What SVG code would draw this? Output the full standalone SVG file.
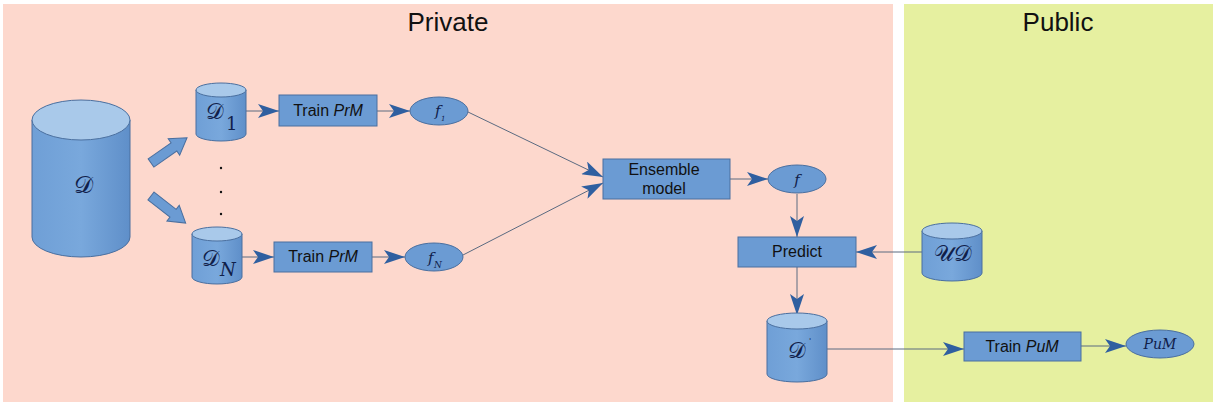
<svg xmlns="http://www.w3.org/2000/svg" width="1216" height="405" viewBox="0 0 1216 405">
<style>
.t{font-family:"Liberation Sans",Arial,sans-serif;fill:#111}
.m{font-family:"DejaVu Serif","Liberation Serif",serif;font-style:italic;fill:#10204a}
.s{font-family:"DejaVu Serif","Liberation Serif",serif;fill:#10204a}
.box{fill:#6b9bd3;stroke:#4a6f9f;stroke-width:1}
.ell{fill:#6b9bd3;stroke:#4a6f9f;stroke-width:1}
.body{fill:url(#cylg);stroke:#4a6f9f;stroke-width:1}
.cap{fill:#a9c9ea;stroke:#4a6f9f;stroke-width:1}
.ln{stroke:#5a6a80;stroke-width:1;fill:none}
.blk{fill:#6b9bd3;stroke:#4a6f9f;stroke-width:1}
</style>
<defs>
<linearGradient id="cylg" x1="0" y1="0" x2="1" y2="0">
<stop offset="0" stop-color="#6f9fd6"/>
<stop offset="0.5" stop-color="#79a8dc"/>
<stop offset="1" stop-color="#5f8fc9"/>
</linearGradient>
<marker id="ah" markerUnits="userSpaceOnUse" markerWidth="22" markerHeight="14" refX="21" refY="7" orient="auto">
<path d="M0,0 L21,7 L0,14 L5,7 Z" fill="#2f5fa0"/>
</marker>
</defs>

<rect x="3" y="4" width="890" height="398" fill="#fdd8cd"/>
<rect x="904" y="4" width="309" height="398" fill="#e6f0a0"/>
<text class="t" x="448" y="31" font-size="26" text-anchor="middle">Private</text>
<text class="t" x="1058" y="31" font-size="26" text-anchor="middle">Public</text>

<g id="connectors">
<line class="ln" x1="246" y1="111" x2="279" y2="111" marker-end="url(#ah)"/>
<line class="ln" x1="377" y1="111" x2="410" y2="111" marker-end="url(#ah)"/>
<line class="ln" x1="242" y1="257" x2="274" y2="257" marker-end="url(#ah)"/>
<line class="ln" x1="372" y1="257" x2="405" y2="257" marker-end="url(#ah)"/>
<line class="ln" x1="468" y1="112" x2="603" y2="177" marker-end="url(#ah)"/>
<line class="ln" x1="463" y1="255" x2="603" y2="183" marker-end="url(#ah)"/>
<line class="ln" x1="730" y1="179" x2="768" y2="179" marker-end="url(#ah)"/>
<line class="ln" x1="797" y1="194" x2="797" y2="237" marker-end="url(#ah)"/>
<line class="ln" x1="922" y1="252" x2="856" y2="252" marker-end="url(#ah)"/>
<line class="ln" x1="797" y1="267" x2="797" y2="315" marker-end="url(#ah)"/>
<line class="ln" x1="827" y1="349" x2="964" y2="349" marker-end="url(#ah)"/>
<line class="ln" x1="1081" y1="346" x2="1126" y2="346" marker-end="url(#ah)"/>
<path class="blk" transform="translate(151,163) rotate(-35)" d="M0,-5 L28,-5 L28,-10 L44,0 L28,10 L28,5 L0,5 Z"/>
<path class="blk" transform="translate(151,196) rotate(38)" d="M0,-5 L28,-5 L28,-10 L44,0 L28,10 L28,5 L0,5 Z"/>
</g>

<g id="D">
<path class="body" d="M32,120 L32,237 A49,20 0 0 0 130,237 L130,120 Z"/>
<ellipse class="cap" cx="81" cy="120" rx="49" ry="20"/>
<text class="s" x="83" y="193" font-size="24" text-anchor="middle">𝒟</text>
</g>

<g id="D1">
<path class="body" d="M196,90 L196,134 A25,7 0 0 0 246,134 L246,90 Z"/>
<ellipse class="cap" cx="221" cy="90" rx="25" ry="7"/>
<text class="s" x="215" y="119" font-size="22" text-anchor="middle">𝒟</text>
<text class="s" x="226" y="130" font-size="18">1</text>
</g>

<g id="dots">
<circle cx="221" cy="168" r="1.2" fill="#111"/>
<circle cx="221" cy="192" r="1.2" fill="#111"/>
<circle cx="221" cy="214" r="1.2" fill="#111"/>
</g>

<g id="DN">
<path class="body" d="M192,234 L192,277 A25,7 0 0 0 242,277 L242,234 Z"/>
<ellipse class="cap" cx="217" cy="234" rx="25" ry="7"/>
<text class="s" x="211" y="266" font-size="22" text-anchor="middle">𝒟</text>
<text class="m" x="220" y="276" font-size="18">N</text>
</g>

<g id="train1">
<rect class="box" x="279" y="95" width="98" height="31"/>
<text class="t" x="328" y="116" font-size="16" text-anchor="middle">Train <tspan font-style="italic">PrM</tspan></text>
</g>

<g id="train2">
<rect class="box" x="274" y="242" width="98" height="30"/>
<text class="t" x="323" y="262" font-size="16" text-anchor="middle">Train <tspan font-style="italic">PrM</tspan></text>
</g>

<g id="f1">
<ellipse class="ell" cx="439" cy="111" rx="29" ry="14"/>
<text class="m" x="435" y="116" font-size="15">f</text>
<text class="m" x="441" y="121" font-size="7">1</text>
</g>

<g id="fN">
<ellipse class="ell" cx="434" cy="257" rx="29" ry="14"/>
<text class="m" x="428" y="263" font-size="15">f</text>
<text class="m" x="434" y="268" font-size="9">N</text>
</g>

<g id="ensemble">
<rect class="box" x="603" y="159" width="127" height="40"/>
<text class="t" x="664" y="175" font-size="16" text-anchor="middle">Ensemble</text>
<text class="t" x="664" y="194" font-size="16" text-anchor="middle">model</text>
</g>

<g id="f">
<ellipse class="ell" cx="797" cy="179" rx="29" ry="14"/>
<text class="m" x="797" y="185" font-size="15" text-anchor="middle">f</text>
</g>

<g id="predict">
<rect class="box" x="738" y="237" width="118" height="30"/>
<text class="t" x="797" y="257" font-size="16" text-anchor="middle">Predict</text>
</g>

<g id="UD">
<path class="body" d="M922,231 L922,273 A30,8 0 0 0 982,273 L982,231 Z"/>
<ellipse class="cap" cx="952" cy="231" rx="30" ry="8"/>
<text class="s" x="953" y="261" font-size="22" text-anchor="middle">𝒰𝒟</text>
</g>

<g id="Dprime">
<path class="body" d="M767,321 L767,374 A30,8 0 0 0 827,374 L827,321 Z"/>
<ellipse class="cap" cx="797" cy="321" rx="30" ry="8"/>
<text class="s" x="797" y="358" font-size="22" text-anchor="middle">𝒟</text>
<text class="m" x="809" y="343" font-size="8">'</text>
</g>

<g id="trainPuM">
<rect class="box" x="964" y="332" width="117" height="29"/>
<text class="t" x="1022" y="352" font-size="16" text-anchor="middle">Train <tspan font-style="italic">PuM</tspan></text>
</g>

<g id="PuM">
<ellipse class="ell" cx="1160" cy="344" rx="34" ry="14"/>
<text class="m" x="1160" y="349" font-size="14" text-anchor="middle">PuM</text>
</g>
</svg>
